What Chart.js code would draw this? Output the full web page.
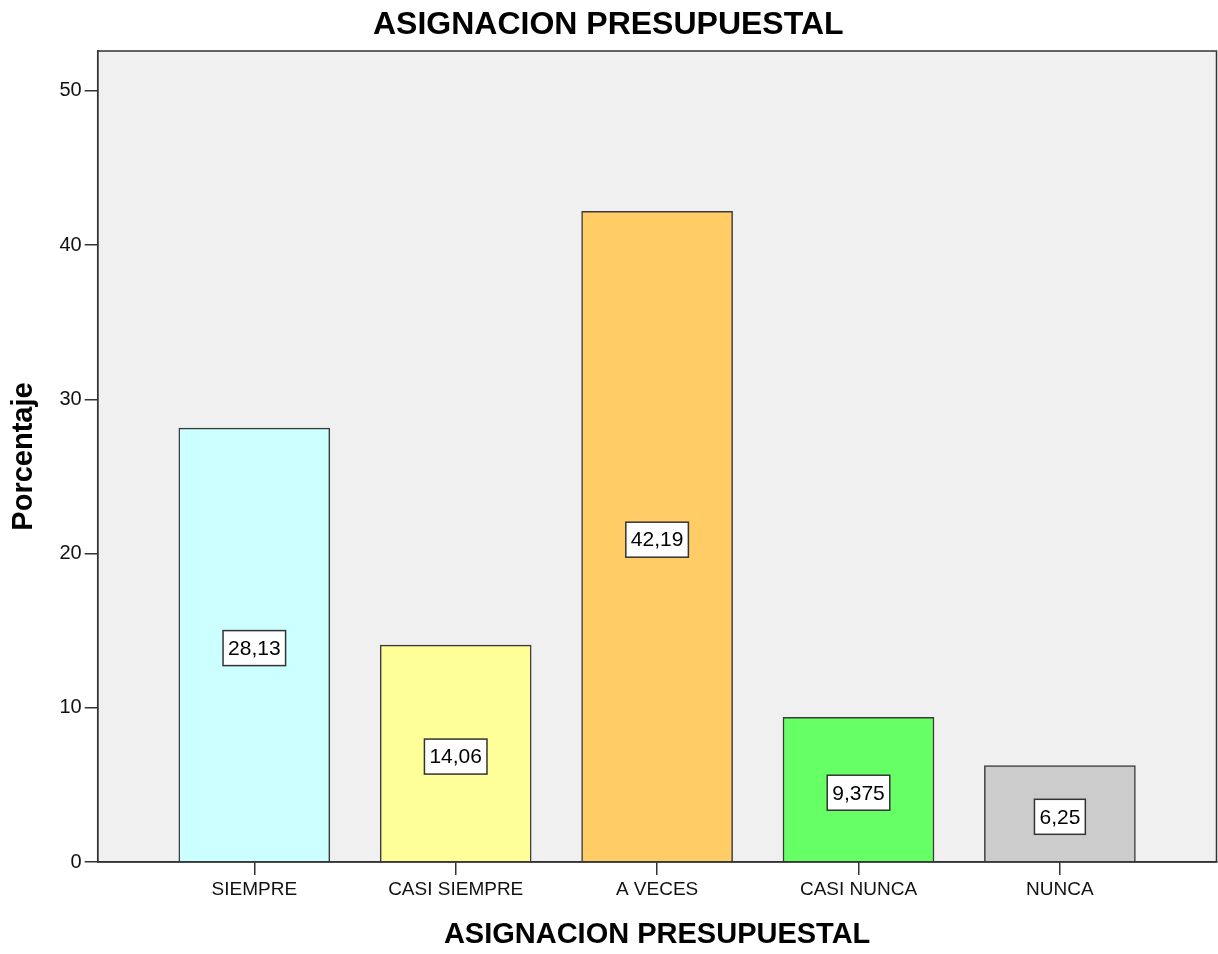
<!DOCTYPE html>
<html>
<head>
<meta charset="utf-8">
<script src="https://cdn.jsdelivr.net/npm/chart.js@4/dist/chart.umd.min.js"></script>
<style>
  html, body { margin: 0; padding: 0; background: #ffffff; }
  canvas { display: block; }
</style>
</head>
<body>
<canvas id="chart" width="1218" height="954"></canvas>
<script>
// Response categories and their share of answers (%)
const categories = ['SIEMPRE', 'CASI SIEMPRE', 'A VECES', 'CASI NUNCA', 'NUNCA'];
const percentages = [28.13, 14.06, 42.19, 9.375, 6.25];
const barColors = ['#CCFFFF', '#FFFF99', '#FFCC66', '#66FF66', '#CCCCCC'];
const yTicks = [0, 10, 20, 30, 40, 50];

const FONT = '"Liberation Sans", Arial, sans-serif';
const INK = '#111111';
const LINE = '#333333';

// Grey plot background, frame and boxed value labels in the middle of each bar
const plotDecor = {
  id: 'plotDecor',
  beforeDraw(chart) {
    const { ctx, chartArea: a } = chart;
    ctx.save();
    ctx.fillStyle = '#F0F0F0';
    ctx.fillRect(a.left, a.top, a.right - a.left, a.bottom - a.top);
    ctx.restore();
  },
  afterDatasetsDraw(chart) {
    const { ctx, chartArea: a } = chart;
    const ys = chart.scales.y;
    ctx.save();
    ctx.strokeStyle = LINE;
    ctx.lineWidth = 1.5;
    ctx.strokeRect(a.left, a.top, a.right - a.left, a.bottom - a.top);

    const meta = chart.getDatasetMeta(0);
    ctx.font = '21px ' + FONT;
    ctx.textAlign = 'center';
    ctx.textBaseline = 'middle';
    meta.data.forEach((bar, i) => {
      const v = percentages[i];
      const txt = String(v).replace('.', ',');
      const tw = ctx.measureText(txt).width;
      const w = tw + 10, h = 35;
      const cx = bar.x;
      const cy = ys.getPixelForValue(v / 2) + 3;
      ctx.fillStyle = '#ffffff';
      ctx.fillRect(cx - w / 2, cy - h / 2, w, h);
      ctx.strokeStyle = LINE;
      ctx.lineWidth = 1.5;
      ctx.strokeRect(cx - w / 2, cy - h / 2, w, h);
      ctx.fillStyle = '#000000';
      ctx.fillText(txt, cx, cy + 1);
    });
    ctx.restore();
  }
};

new Chart(document.getElementById('chart'), {
  type: 'bar',
  data: {
    datasets: [{
      data: categories.map((c, i) => ({ x: i, y: percentages[i] })),
      backgroundColor: barColors,
      borderColor: '#3a3a3a',
      borderWidth: 1.5,
      barThickness: 151
    }]
  },
  options: {
    responsive: false,
    animation: false,
    layout: { padding: { left: 0, right: 1.5, top: 0, bottom: 0 } },
    plugins: {
      legend: { display: false },
      tooltip: { enabled: false },
      title: {
        display: true,
        text: 'ASIGNACION PRESUPUESTAL',
        color: '#000000',
        font: { family: FONT, size: 32, weight: 'bold', lineHeight: 1.2 },
        padding: { top: 5.5, bottom: 7.1 }
      }
    },
    scales: {
      x: {
        type: 'linear',
        min: -0.7776,
        max: 4.7776,
        offset: false,
        afterBuildTicks(s) { s.ticks = categories.map((c, i) => ({ value: i })); },
        afterFit(s) { s.height = 92; },
        ticks: {
          callback: (v) => categories[v],
          font: { family: FONT, size: 19 },
          color: INK,
          padding: 3,
          autoSkip: false,
          maxRotation: 0
        },
        grid: { offset: false, drawOnChartArea: false, tickLength: 13, color: LINE, lineWidth: 1.5 },
        border: { display: true, color: LINE, width: 1.5 },
        title: {
          display: true,
          text: 'ASIGNACION PRESUPUESTAL',
          color: '#000000',
          font: { family: FONT, size: 29, weight: 'bold', lineHeight: 1.2 },
          padding: { top: 0, bottom: 1.5 }
        }
      },
      y: {
        min: 0,
        max: 52.59,
        afterBuildTicks(s) { s.ticks = yTicks.map(v => ({ value: v })); },
        afterFit(s) { s.width = 97.7; },
        ticks: {
          font: { family: FONT, size: 20 },
          color: INK,
          padding: 3
        },
        grid: { drawOnChartArea: false, tickLength: 13, color: LINE, lineWidth: 1.5 },
        border: { display: true, color: LINE, width: 1.5 },
        title: {
          display: true,
          text: 'Porcentaje',
          color: '#000000',
          font: { family: FONT, size: 29, weight: 'bold', lineHeight: 1.2 },
          padding: { top: 6.6, bottom: 0 }
        }
      }
    }
  },
  plugins: [plotDecor]
});
</script>
</body>
</html>
